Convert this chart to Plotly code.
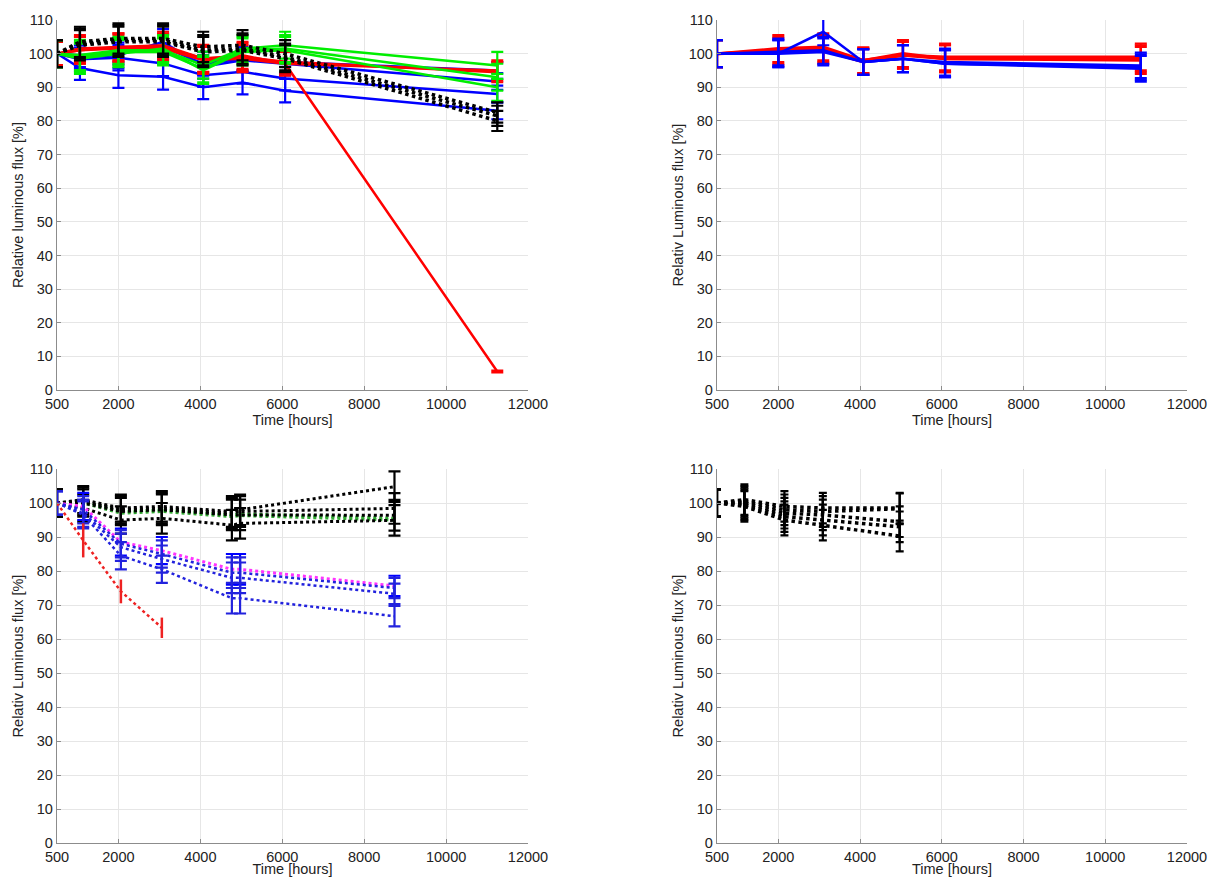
import plotly.graph_objects as go

# ---------------- data ----------------
# Top-left panel
tl_time = [500, 1060, 2000, 3090, 4070, 5030, 6070, 11250]
tl_blue = [
    [100, 95.7, 93.6, 93.1, 90.0, 91.4, 89.0, 83.0],
    [100, 98.3, 98.8, 97.1, 93.6, 94.6, 92.6, 88.0],
    [100, 99.0, 99.5, 103.5, 96.1, 98.0, 97.0, 91.7],
    [100, 99.5, 100.5, 102.0, 97.0, 98.5, 97.5, 95.0],
]
tl_blue_err = [3.5, 3.5, 3.8, 3.8, 3.5, 3.5, 3.5, 2.5]
tl_red = [
    [100, 101.5, 102.0, 102.0, 98.6, 99.0, 97.6, 94.5],
    [100, 101.0, 101.5, 101.5, 98.0, 98.5, 97.0, 95.0],
    [100, 101.0, 102.0, 102.5, 98.5, 99.5, 97.0, 5.5],
]
tl_red_err = [
    [3.5, 4.0, 4.0, 4.0, 4.0, 4.0, 3.5, 3.0],
    [3.5, 4.0, 4.0, 4.0, 4.0, 4.0, 3.5, 3.0],
    [3.5, 4.0, 4.0, 4.0, 4.0, 4.0, 3.5, 0.3],
]
tl_green = [
    [100, 99.6, 101.0, 101.0, 96.6, 101.5, 102.5, 96.5],
    [100, 99.0, 100.5, 100.5, 95.5, 101.0, 101.5, 93.0],
    [100, 98.5, 100.0, 101.5, 95.0, 100.5, 101.0, 90.0],
]
tl_green_err = [4.0, 4.5, 4.0, 4.0, 4.0, 4.0, 4.0, 4.0]
tl_black = [
    [100, 103.5, 104.5, 104.5, 102.0, 102.5, 100.0, 82.5],
    [100, 103.0, 104.0, 104.0, 101.0, 101.5, 99.0, 81.5],
    [100, 102.5, 103.5, 103.5, 100.5, 101.0, 98.5, 80.0],
]
tl_black_err = [4.0, 4.5, 4.5, 4.5, 4.5, 4.5, 4.0, 3.0]

# Top-right panel
tr_time = [500, 2000, 3100, 4080, 5050, 6080, 10870]
tr_red = [
    [100, 101.0, 101.5, 98.0, 100.0, 98.5, 98.5],
    [100, 101.5, 102.0, 98.0, 99.5, 99.0, 99.0],
    [100, 100.5, 101.0, 97.5, 99.5, 98.5, 98.0],
]
tr_red_err = [4.0, 4.0, 4.0, 3.8, 4.0, 4.0, 4.0]
tr_blue = [
    [100, 100.0, 100.5, 97.5, 98.5, 97.5, 96.5],
    [100, 100.5, 101.0, 97.5, 98.5, 97.0, 95.5],
    [100, 100.0, 106.5, 97.5, 98.5, 97.0, 96.0],
]
tr_blue_err = [4.0, 4.0, 4.0, 3.8, 4.0, 4.0, 3.8]

# Bottom-left panel
bl_time = [500, 1140, 2060, 3060, 4770, 4970, 8740]
bl_green = [
    [100, 100.5, 97.5, 98.0, 96.5, 96.8, 95.5],
    [100, 100.0, 97.0, 97.5, 96.0, 96.3, 95.0],
]
bl_black = [
    [100, 101.0, 98.5, 99.0, 97.5, 98.0, 104.8],
    [100, 100.5, 98.0, 98.5, 97.0, 97.5, 98.4],
    [100, 100.0, 97.5, 98.0, 96.5, 96.5, 96.4],
    [100, 98.5, 95.0, 95.5, 93.5, 94.0, 94.9],
]
bl_black_err = [4.0, 4.0, 4.0, 4.5, 4.5, 4.5, 4.5]
bl_magenta = [100, 99.0, 88.5, 86.0, 80.5, 80.5, 75.6]
bl_blue = [
    [100, 98.0, 88.0, 85.0, 79.5, 79.5, 75.0],
    [100, 97.0, 87.0, 83.5, 78.0, 78.0, 73.3],
    [100, 96.5, 84.5, 80.5, 72.0, 72.0, 66.7],
]
bl_blue_err = [3.5, 4.0, 4.0, 4.0, 4.5, 4.5, 3.0]
bl_red_time = [500, 1140, 2060, 3060]
bl_red = [100, 89.0, 74.0, 63.3]
bl_red_err = [0, 5.0, 3.5, 3.0]

# Bottom-right panel
br_time = [500, 1170, 2150, 3090, 4970]
br_black = [
    [100, 101.0, 99.0, 98.5, 98.5],
    [100, 100.5, 98.0, 97.5, 98.3],
    [100, 100.0, 97.0, 96.5, 94.5],
    [100, 99.5, 96.0, 95.0, 93.0],
    [100, 99.0, 95.0, 93.5, 90.3],
]
br_black_err = [4.0, 4.5, 4.5, 4.5, 4.5]

x_ticks = [500, 2000, 4000, 6000, 8000, 10000, 12000]
y_ticks = list(range(0, 111, 10))
x_title = "Time [hours]"
y_title_tl = "Relative luminous flux [%]"
y_title_other = "Relativ Luminous flux [%]"

# ---------------- figure ----------------
W, H = 1211, 877
fig = go.Figure()

def add(xs, ys, color, axis, dash="solid", width=2.5, err=None, cap=6, ethick=2.2, ecolor=None):
    xa, ya = axis
    tr = dict(x=xs, y=ys, mode="lines", xaxis=xa, yaxis=ya,
              line=dict(color=color, width=width, dash=dash),
              showlegend=False, hoverinfo="skip")
    if err is not None:
        tr["error_y"] = dict(type="data", array=err, visible=True,
                             color=ecolor or color, thickness=ethick, width=cap)
    fig.add_trace(go.Scatter(**tr))

A1, A2, A3, A4 = ("x", "y"), ("x2", "y2"), ("x3", "y3"), ("x4", "y4")

# top-left
for s in tl_blue:
    add(tl_time, s, "#0000ff", A1, err=tl_blue_err)
for s, e in zip(tl_red, tl_red_err):
    add(tl_time, s, "#ff0000", A1, err=e)
for s in tl_green:
    add(tl_time, s, "#00ee00", A1, err=tl_green_err)
for s in tl_black:
    add(tl_time, s, "#000000", A1, dash="dot", width=3.5, err=tl_black_err)

# top-right
for s in tr_red:
    add(tr_time, s, "#ff0000", A2, width=3, err=tr_red_err)
for s in tr_blue:
    add(tr_time, s, "#0000ff", A2, width=2.5, err=tr_blue_err)

# bottom-left
for s in bl_green:
    add(bl_time, s, "#33aa33", A3, dash="dot", width=3)
for s in bl_black:
    add(bl_time, s, "#000000", A3, dash="dot", width=3, err=bl_black_err)
add(bl_time, bl_magenta, "#ff33ff", A3, dash="dot", width=3, err=bl_blue_err, ecolor="#0000ff")
for s in bl_blue:
    add(bl_time, s, "#2222dd", A3, dash="dot", width=2.5, err=bl_blue_err)
add(bl_red_time, bl_red, "#ee2222", A3, dash="dot", width=2.5, err=bl_red_err, cap=0, ethick=2.5)

# bottom-right
for s in br_black:
    add(br_time, s, "#000000", A4, dash="dot", width=3.5, err=br_black_err, cap=4)

# ---------------- layout ----------------
xl = [57 / W, 528 / W]
xr = [717 / W, 1187 / W]
yt = [1 - 390 / H, 1 - 20 / H]
yb = [1 - 843 / H, 1 - 469 / H]

font = dict(family="Liberation Sans, Arial, sans-serif", size=14.5, color="#222222")
tfont = dict(family="Liberation Sans, Arial, sans-serif", size=14.5, color="#222222")
axcol = "#8c8c8c"
grid = "#e6e6e6"

def xaxis(dom, anchor):
    return dict(domain=dom, anchor=anchor, range=[500, 12000], tickvals=x_ticks,
                ticktext=[str(v) for v in x_ticks], showgrid=True, gridcolor=grid,
                gridwidth=1, showline=True, linecolor=axcol, linewidth=1.3,
                ticks="inside", ticklen=4, tickcolor=axcol, zeroline=False,
                tickfont=font, title=dict(text=x_title, font=tfont, standoff=0),
                automargin=False, mirror=False)

def yaxis(dom, anchor, title):
    return dict(domain=dom, anchor=anchor, range=[0, 110], tickvals=y_ticks,
                showgrid=True, gridcolor=grid, gridwidth=1, showline=True,
                linecolor=axcol, linewidth=1.3, ticks="inside", ticklen=4,
                tickcolor=axcol, zeroline=False, tickfont=font,
                title=dict(text=title, font=tfont, standoff=1),
                automargin=False, mirror=False)

fig.update_layout(
    width=W, height=H,
    margin=dict(l=0, r=0, t=0, b=0),
    paper_bgcolor="white", plot_bgcolor="white",
    showlegend=False,
    xaxis=xaxis(xl, "y"), yaxis=yaxis(yt, "x", y_title_tl),
    xaxis2=xaxis(xr, "y2"), yaxis2=yaxis(yt, "x2", y_title_other),
    xaxis3=xaxis(xl, "y3"), yaxis3=yaxis(yb, "x3", y_title_other),
    xaxis4=xaxis(xr, "y4"), yaxis4=yaxis(yb, "x4", y_title_other),
)

fig.write_html("out.html", config={"displayModeBar": False},
               post_script="document.body.style.margin='0';document.body.style.padding='0';document.body.style.overflow='hidden';")
